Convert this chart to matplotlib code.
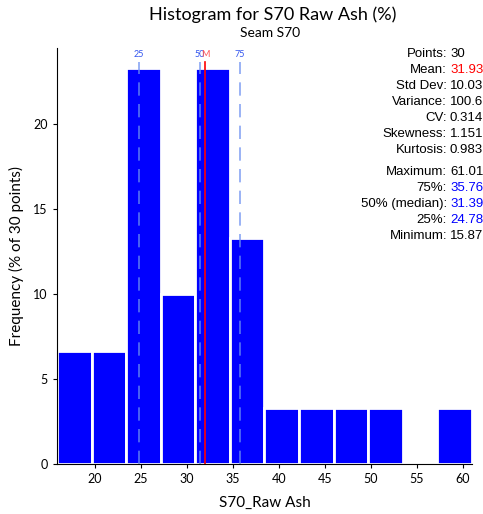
import numpy as np
import matplotlib
matplotlib.use("Agg")
import matplotlib.pyplot as plt

# histogram bins (percent of 30 points)
bin_edges = np.linspace(15.87, 61.01, 13)
freq_pct = [6.67, 6.67, 23.33, 10.0, 23.33, 13.33, 3.33, 3.33, 3.33, 3.33, 0.0, 3.33]

mean_val = 31.93
quant_vals = [24.78, 31.39, 35.76]
quant_names = ["25", "50", "75"]

stat_labels = ["Points:", "Mean:", "Std Dev:", "Variance:", "CV:", "Skewness:", "Kurtosis:",
               "Maximum:", "75%:", "50% (median):", "25%:", "Minimum:"]
stat_values = ["30", "31.93", "10.03", "100.6", "0.314", "1.151", "0.983",
               "61.01", "35.76", "31.39", "24.78", "15.87"]
stat_colors = ["black", "red", "black", "black", "black", "black", "black",
               "black", "blue", "blue", "blue", "black"]

plt.rcParams['font.family'] = ['Lato', 'DejaVu Sans']

fig = plt.figure(figsize=(4.83, 5.14), dpi=100)
ax = fig.add_axes([0.118, 0.097, 0.859, 0.81])

widths = np.diff(bin_edges)
ax.bar(bin_edges[:-1], freq_pct, width=widths, align='edge', color='#0000ff',
       edgecolor='white', linewidth=2)

ax.set_xlim(15.87, 61.01)
ax.set_ylim(0, 24.5)
ax.set_xticks([20, 25, 30, 35, 40, 45, 50, 55, 60])
ax.set_yticks([0, 5, 10, 15, 20])
for s in ['top', 'right']:
    ax.spines[s].set_visible(False)
ax.tick_params(labelsize=9, length=3)

for q, nm in zip(quant_vals, quant_names):
    ax.axvline(q, ymin=0, ymax=0.965, color='#6b8ff0', linestyle=(0, (8, 5)), linewidth=1.2, alpha=0.8)
    ax.text(q, 0.985, nm, transform=ax.get_xaxis_transform(), color='#3355ee',
            fontsize=6.5, ha='center', va='center')
ax.axvline(mean_val, ymin=0, ymax=0.965, color='red', linewidth=1.2)
ax.text(mean_val + 0.1, 0.985, "M", transform=ax.get_xaxis_transform(), color='#ff5555',
        fontsize=6.5, ha='center', va='center')

ax.set_xlabel("S70_Raw Ash", fontsize=11, labelpad=8)
ax.set_ylabel("Frequency (% of 30 points)", fontsize=11, labelpad=7)

fig.text(0.565, 0.972, "Histogram for S70 Raw Ash (%)", fontsize=13, ha='center', va='center')
fig.text(0.56, 0.935, "Seam S70", fontsize=10, ha='center', va='center')

y0 = 514 - 54
for i, (lab, val, col) in enumerate(zip(stat_labels, stat_values, stat_colors)):
    y = y0 - i * 16 - (6 if i >= 7 else 0)
    fig.text(447 / 483, y / 514, lab, fontsize=9.5, ha='right', va='center',
             family='Liberation Sans')
    fig.text(450 / 483, y / 514, val, fontsize=9.5, ha='left', va='center',
             color=col, family='Liberation Sans')

fig.savefig("out.png", dpi=100)
